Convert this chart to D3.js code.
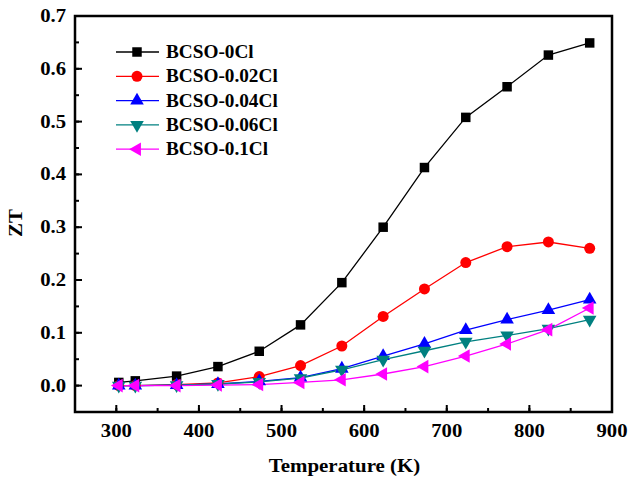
<!DOCTYPE html>
<html>
<head>
<meta charset="utf-8">
<script src="https://cdn.jsdelivr.net/npm/d3@7"></script>
<style>
  body { margin: 0; background: #fff; }
  text { font-family: "Liberation Serif", "Times New Roman", serif; font-weight: bold; }
</style>
</head>
<body>
<svg id="chart" width="630" height="478"></svg>
<script>
// the data
var temps = [303, 323, 373, 423, 473, 523, 573, 623, 673, 723, 773, 823, 873];
var zt0 = [0.006, 0.009, 0.018, 0.036, 0.065, 0.115, 0.195, 0.300, 0.413, 0.508, 0.566, 0.626, 0.649];
var zt002 = [0.000, 0.000, 0.002, 0.005, 0.017, 0.038, 0.075, 0.131, 0.183, 0.233, 0.263, 0.272, 0.260];
var zt004 = [0.000, 0.000, 0.001, 0.003, 0.008, 0.015, 0.032, 0.056, 0.079, 0.105, 0.125, 0.143, 0.163];
var zt006 = [0.000, 0.000, 0.001, 0.003, 0.007, 0.014, 0.030, 0.049, 0.066, 0.083, 0.095, 0.108, 0.125];
var zt01 = [0.000, 0.000, 0.000, 0.001, 0.002, 0.006, 0.011, 0.022, 0.036, 0.056, 0.079, 0.106, 0.147];
var names = ['BCSO-0Cl', 'BCSO-0.02Cl', 'BCSO-0.04Cl', 'BCSO-0.06Cl', 'BCSO-0.1Cl'];
var colors = ['#000000', '#ff0000', '#0000ff', '#008080', '#ff00ff'];
var xTicks = [300, 400, 500, 600, 700, 800, 900];
var yTicks = [0.0, 0.1, 0.2, 0.3, 0.4, 0.5, 0.6, 0.7];

var series = [zt0, zt002, zt004, zt006, zt01];

var L = 75, R = 612, T = 16, B = 412;
var scX = d3.scaleLinear().domain([250, 900]).range([L, R]);
var scY = d3.scaleLinear().domain([-0.05, 0.7]).range([B, T]);

var svg = d3.select('#chart');

// the source font is a bit wider than Liberation Serif -> stretch horizontally
function label(x, y, str, size, sx, anchor, rot){
  return svg.append('text')
    .attr('transform', 'translate(' + x + ',' + y + ')' + (rot ? ' rotate(' + rot + ')' : '') + ' scale(' + sx + ',1)')
    .attr('text-anchor', anchor).attr('font-size', size).text(str);
}

// marker shapes
var shapes = [
  d3.symbol().type(d3.symbolSquare).size(90),
  d3.symbol().type(d3.symbolCircle).size(95),
  d3.symbol().type(d3.symbolTriangle).size(80),
  d3.symbol().type(d3.symbolTriangle).size(80),
  d3.symbol().type(d3.symbolTriangle).size(80)
];
var rots = [0, 0, 0, 180, -90];

// minor ticks
var xMinor = d3.range(250, 901, 50);
var yMinor = d3.range(-0.05, 0.701, 0.05);

svg.selectAll('.xminor').data(xMinor).enter().append('line')
  .attr('x1', d => scX(d)).attr('x2', d => scX(d))
  .attr('y1', B).attr('y2', B - 4).attr('stroke', '#000').attr('stroke-width', 2);
svg.selectAll('.xmajor').data(xTicks).enter().append('line')
  .attr('x1', d => scX(d)).attr('x2', d => scX(d))
  .attr('y1', B).attr('y2', B - 7).attr('stroke', '#000').attr('stroke-width', 2);
svg.selectAll('.yminor').data(yMinor).enter().append('line')
  .attr('x1', L).attr('x2', L + 4)
  .attr('y1', d => scY(d)).attr('y2', d => scY(d)).attr('stroke', '#000').attr('stroke-width', 2);
svg.selectAll('.ymajor').data(yTicks).enter().append('line')
  .attr('x1', L).attr('x2', L + 7)
  .attr('y1', d => scY(d)).attr('y2', d => scY(d)).attr('stroke', '#000').attr('stroke-width', 2);

// tick labels
xTicks.forEach(d => label(scX(d), B + 25, d, 18, 1.15, 'middle'));
yTicks.forEach(d => label(L - 9, scY(d) + 6, d.toFixed(1), 18, 1.15, 'end'));

// axis titles
label((L + R) / 2 + 1, 472, 'Temperature (K)', 19, 1.1, 'middle');
label(22, 223, 'ZT', 19, 1.1, 'middle', -90);

// lines + markers
var line = d3.line().x((d, i) => scX(temps[i])).y(d => scY(d));
series.forEach(function(s, k){
  svg.append('path').datum(s).attr('d', line)
    .attr('fill', 'none').attr('stroke', colors[k]).attr('stroke-width', 1.3);
});
series.forEach(function(s, k){
  svg.selectAll('.m' + k).data(s).enter().append('path')
    .attr('d', shapes[k])
    .attr('transform', (d, i) => 'translate(' + scX(temps[i]) + ',' + scY(d) + ') rotate(' + rots[k] + ')')
    .attr('fill', colors[k]);
});

// frame
svg.append('rect').attr('x', L).attr('y', T).attr('width', R - L).attr('height', B - T)
  .attr('fill', 'none').attr('stroke', '#000').attr('stroke-width', 2.5);

// legend
names.forEach(function(n, k){
  var y = 52 + k * 24.3;
  svg.append('line').attr('x1', 116).attr('x2', 159).attr('y1', y).attr('y2', y)
    .attr('stroke', colors[k]).attr('stroke-width', 1.3);
  svg.append('path').attr('d', shapes[k])
    .attr('transform', 'translate(137,' + y + ') rotate(' + rots[k] + ')')
    .attr('fill', colors[k]);
  label(166, y + 6, n, 18, 1.07, 'start');
});
</script>
</body>
</html>
